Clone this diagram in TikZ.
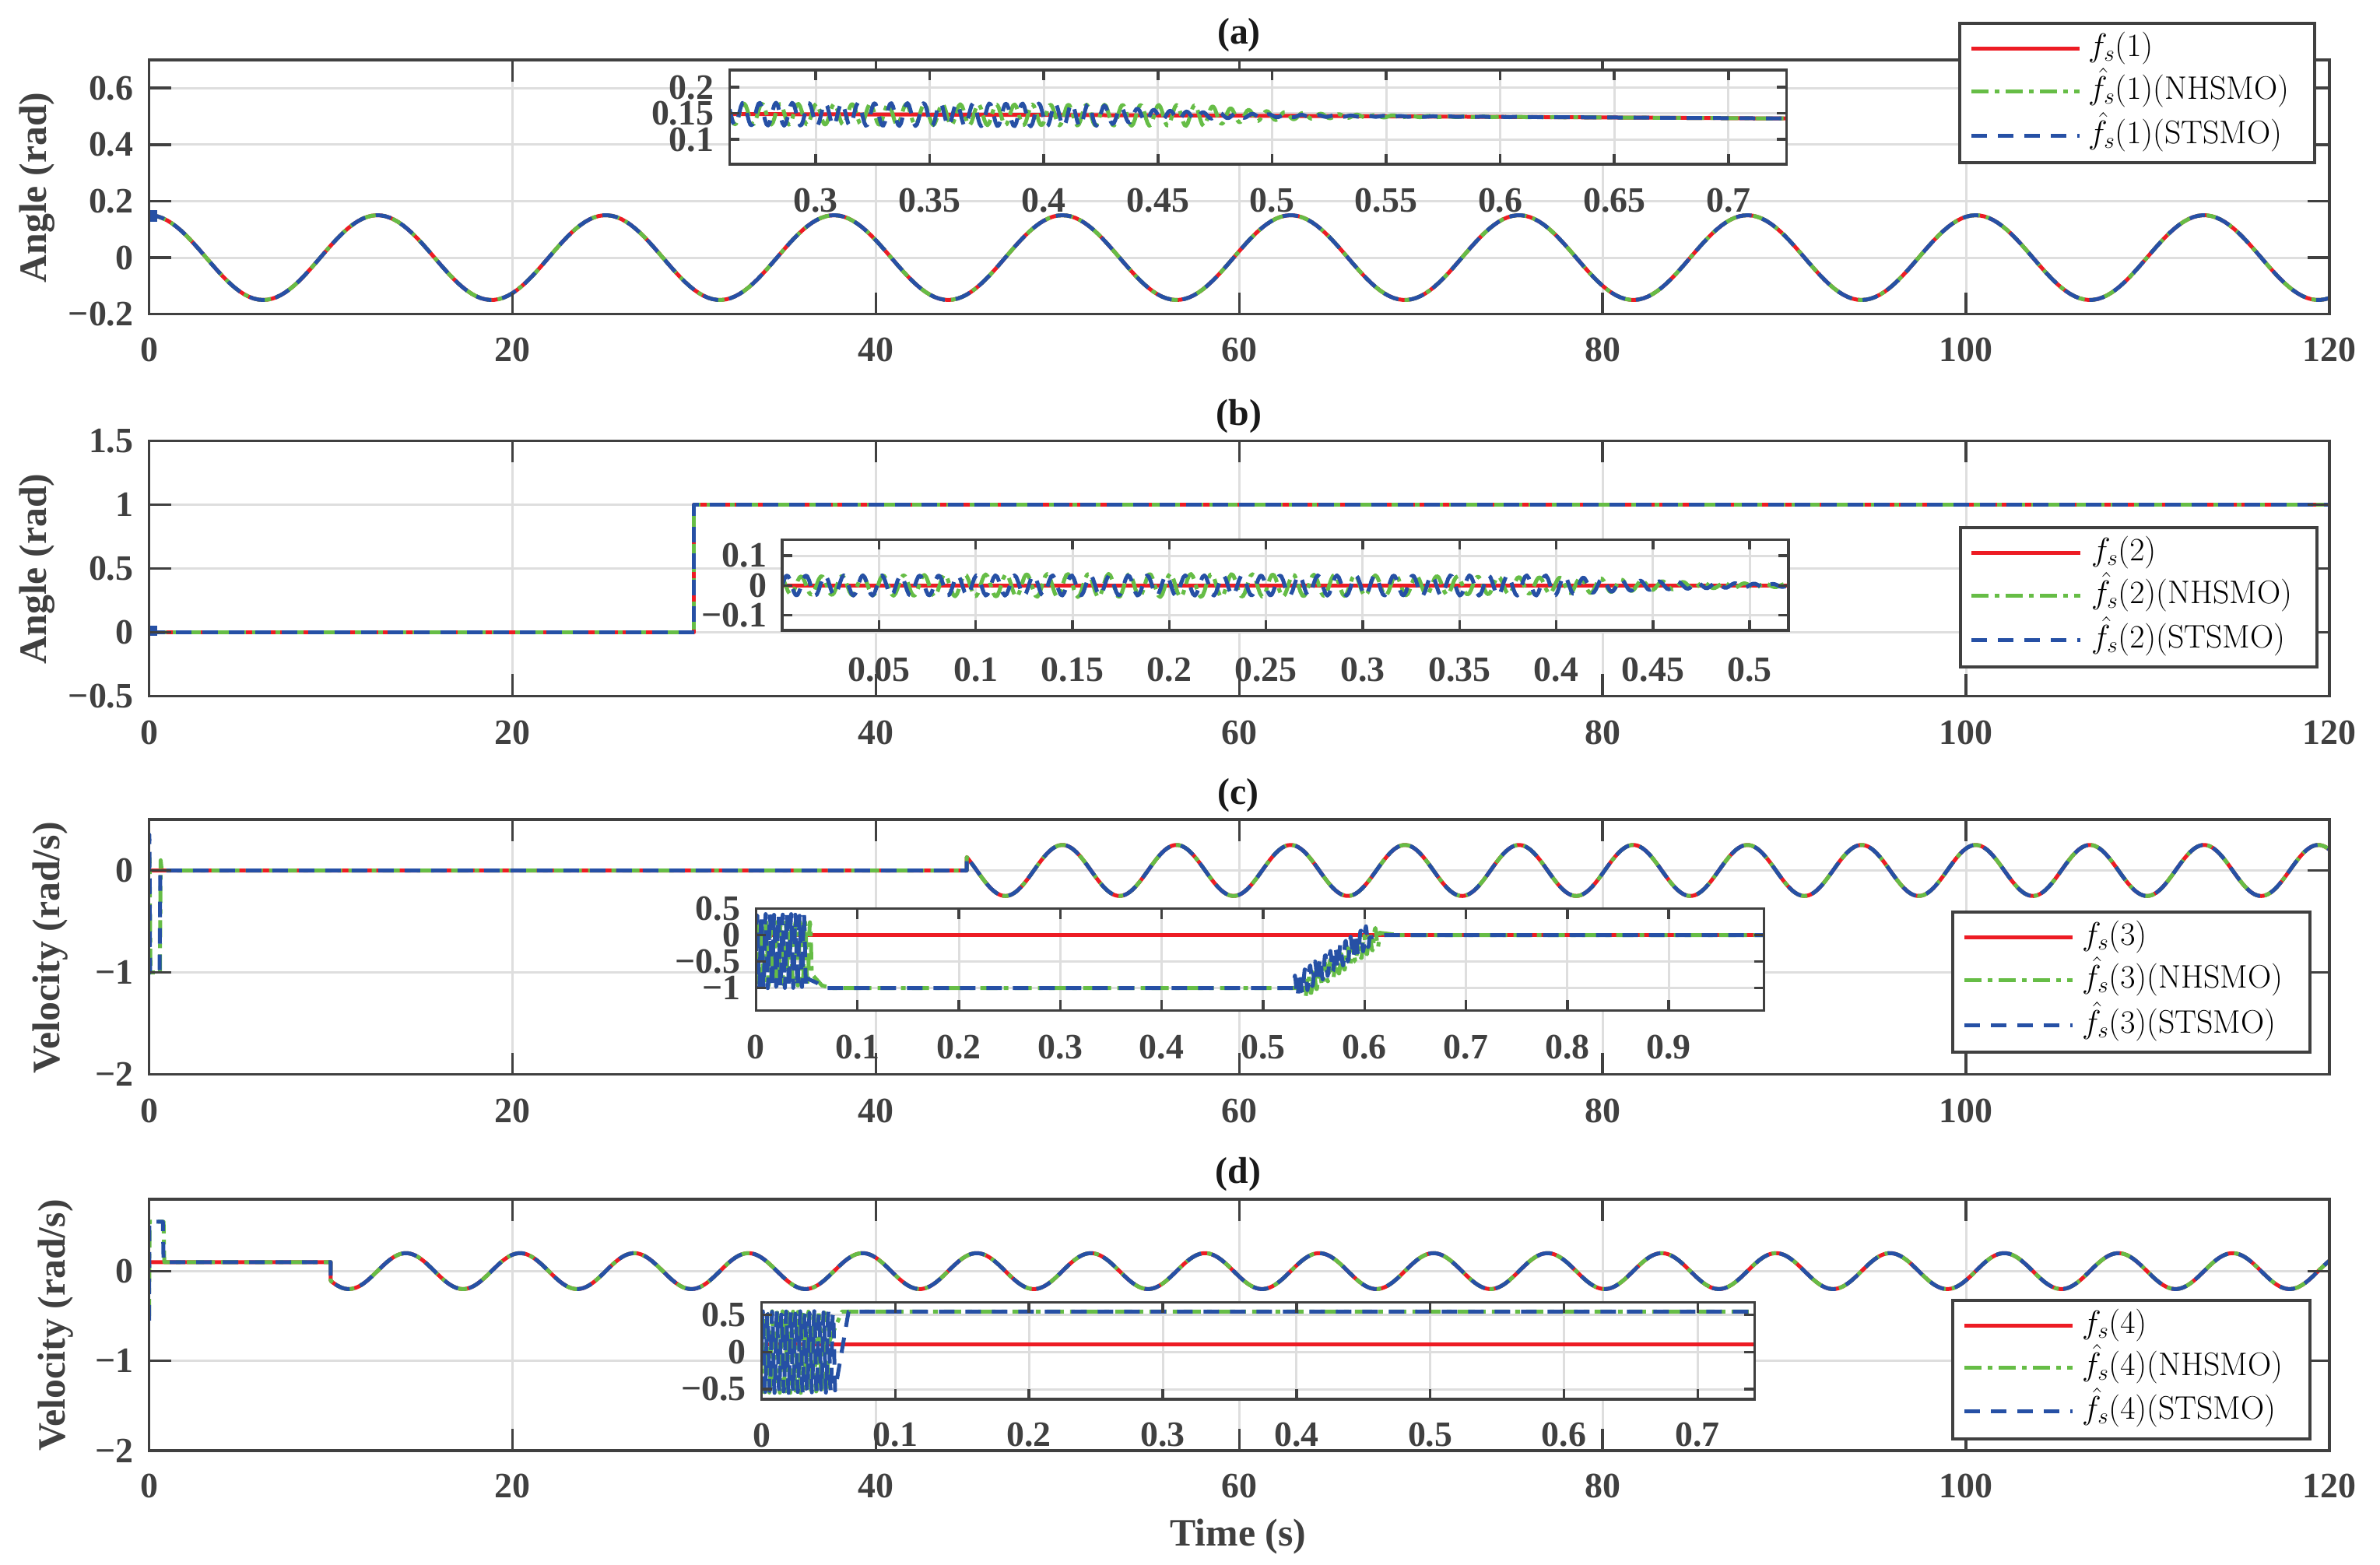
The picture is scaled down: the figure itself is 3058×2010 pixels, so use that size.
\RequirePackage{fix-cm}
\documentclass[tikz,border=0pt]{standalone}
\usepackage{fontspec}
\newfontfamily\tnr{Liberation Serif}
\definecolor{axc}{RGB}{64,64,64}
\definecolor{gridc}{RGB}{222,222,222}
\definecolor{cred}{RGB}{237,28,36}
\definecolor{cgreen}{RGB}{102,189,70}
\definecolor{cblue}{RGB}{38,80,165}
\tikzset{
 axbox/.style={draw=axc, line width=3.5bp},
 gridl/.style={draw=gridc, line width=3bp},
 tickl/.style={draw=axc, line width=3.5bp},
 tlab/.style={font=\tnr\bfseries\fontsize{46}{50}\selectfont, text=axc, inner sep=0pt},
 redc/.style={draw=cred, line width=5bp, line join=round},
 greenc/.style={draw=cgreen, line width=5bp, line join=round, dash pattern=on 22bp off 8bp on 6bp off 8bp},
 bluec/.style={draw=cblue, line width=5bp, line join=round, dash pattern=on 20bp off 14bp},
 legbox/.style={fill=white, draw=axc, line width=3.5bp},
 legtxt/.style={font=\fontsize{42}{46}\selectfont, inner sep=0pt, anchor=base west},
 ttl/.style={font=\tnr\bfseries\fontsize{48}{52}\selectfont, text=black!90, inner sep=0pt},
 ylab/.style={font=\tnr\bfseries\fontsize{50}{54}\selectfont, text=axc, inner sep=0pt, rotate=90},
}
\begin{document}
\begin{tikzpicture}[x=1bp,y=-1bp]
\useasboundingbox (0,0) rectangle (3058,2010);
\fill[white] (0,0) rectangle (3058,2010);

%%%%%%%%%%%%%%%% Panel (a)
\begin{scope}[shift={(191.5bp,-331bp)}, x=23.346bp, y=363bp]
 \foreach \yv in {0,0.2,0.4,0.6} \draw[gridl] (0,\yv) -- (120,\yv);
 \foreach \xv in {20,40,60,80,100} \draw[gridl] (\xv,-0.2) -- (\xv,0.7);
 \begin{scope}
  \clip (0,-0.2) rectangle (120,0.7);
  \draw[redc] plot[domain=0:120,samples=481] (\x,{0.15*cos(0.5*\x r)});
  \draw[greenc] plot[domain=0:120,samples=481] (\x,{0.15*cos(0.5*\x r)});
  \draw[bluec] plot[domain=0:120,samples=481] (\x,{0.15*cos(0.5*\x r)});
  \draw[cblue,line width=10bp] (0.25,0.127) -- (0.25,0.168);
 \end{scope}
 \foreach \yv in {-0.2,0,0.2,0.4,0.6} {\draw[tickl] (0,\yv) -- ++(28bp,0); \draw[tickl] (120,\yv) -- ++(-28bp,0);}
 \foreach \xv in {0,20,...,120} {\draw[tickl] (\xv,-0.2) -- ++(0,28bp); \draw[tickl] (\xv,0.7) -- ++(0,-28bp);}
 \draw[axbox] (0,-0.2) rectangle (120,0.7);
 \foreach \xv [count=\i] in {0,20,...,120} \node[tlab,yshift=-46bp] (axl\i) at (\xv,-0.2) {\xv};
 \foreach \yv/\lab [count=\i] in {-0.2/{−0.2},0/0,0.2/0.2,0.4/0.4,0.6/0.6} \node[tlab,anchor=east,xshift=-20bp] (ayl\i) at (0,\yv) {\lab};
\end{scope}
% inset (a)
\begin{scope}[shift={(168.4bp,-246.2bp)}, x=2932bp, y=670bp]
 \fill[white] (0.2623,0.0527) rectangle (0.7255,0.2333);
 \foreach \yv in {0.1,0.15,0.2} \draw[gridl] (0.2623,\yv) -- (0.7255,\yv);
 \foreach \xv in {0.3,0.35,0.4,0.45,0.5,0.55,0.6,0.65,0.7} \draw[gridl] (\xv,0.0527) -- (\xv,0.2333);
 \begin{scope}
  \clip (0.2623,0.0527) rectangle (0.7255,0.2333);
  \draw[redc] plot[domain=0.2623:0.7255,samples=40] (\x,{0.15*cos(0.5*\x r)});
  \draw[greenc] plot[domain=0.2623:0.7255,samples=650] (\x,{0.15*cos(0.5*\x r)+0.02*min(1,exp(-(\x-0.47)/0.035))*sin(360*frac(\x/0.0079)+90)});
  \draw[bluec] plot[domain=0.2623:0.7255,samples=650] (\x,{0.15*cos(0.5*\x r)+0.022*min(1,exp(-(\x-0.42)/0.04))*sin(360*frac(\x/0.0072))});
 \end{scope}
 \foreach \yv in {0.1,0.15,0.2} {\draw[tickl] (0.2623,\yv) -- ++(13bp,0); \draw[tickl] (0.7255,\yv) -- ++(-13bp,0);}
 \foreach \xv in {0.3,0.35,0.4,0.45,0.5,0.55,0.6,0.65,0.7} {\draw[tickl] (\xv,0.0527) -- ++(0,13bp); \draw[tickl] (\xv,0.2333) -- ++(0,-13bp);}
 \draw[axbox] (0.2623,0.0527) rectangle (0.7255,0.2333);
 \foreach \xv [count=\i] in {0.3,0.35,0.4,0.45,0.5,0.55,0.6,0.65,0.7} \node[tlab,yshift=-47bp] (iaxl\i) at (\xv,0.0527) {\xv};
 \foreach \yv [count=\i] in {0.1,0.15,0.2} \node[tlab,anchor=east,xshift=-20bp] (iayl\i) at (0.2623,\yv) {\yv};
\end{scope}
% legend (a)
\draw[legbox] (2518,30) rectangle (2974,209);
\draw[redc] (2533,62) -- (2672,62);
\draw[greenc] (2533,117) -- (2672,117);
\draw[bluec] (2533,174) -- (2672,174);
\node[legtxt] (la1) at (2683,72.5) {$f_s(1)$};
\node[legtxt] (la2) at (2683,127.5) {$\hat{f}_s(1)$(NHSMO)};
\node[legtxt] (la3) at (2683,184.5) {$\hat{f}_s(1)$(STSMO)};
\node[ttl] (ta) at (1592,45) {(a)};
\node[ylab] (yla) at (48,241) {Angle (rad)};

%%%%%%%%%%%%%%%% Panel (b)
\begin{scope}[shift={(191.5bp,-812.3bp)}, x=23.346bp, y=164bp]
 \foreach \yv in {0,0.5,1} \draw[gridl] (0,\yv) -- (120,\yv);
 \foreach \xv in {20,40,60,80,100} \draw[gridl] (\xv,-0.5) -- (\xv,1.5);
 \begin{scope}
  \clip (0,-0.5) rectangle (120,1.5);
  \draw[redc] (0,0) -- (30,0) -- (30,1) -- (120,1);
  \draw[greenc] (0,0) -- (30,0) -- (30,1) -- (120,1);
  \draw[bluec] (0,0) -- (30,0) -- (30,1) -- (120,1);
  \draw[cblue,line width=10bp] (0.25,-0.03) -- (0.25,0.05);
 \end{scope}
 \foreach \yv in {-0.5,0,0.5,1,1.5} {\draw[tickl] (0,\yv) -- ++(28bp,0); \draw[tickl] (120,\yv) -- ++(-28bp,0);}
 \foreach \xv in {0,20,...,120} {\draw[tickl] (\xv,-0.5) -- ++(0,28bp); \draw[tickl] (\xv,1.5) -- ++(0,-28bp);}
 \draw[axbox] (0,-0.5) rectangle (120,1.5);
 \foreach \xv [count=\i] in {0,20,...,120} \node[tlab,yshift=-47bp] (bxl\i) at (\xv,-0.5) {\xv};
 \foreach \yv/\lab [count=\i] in {-0.5/{−0.5},0/0,0.5/0.5,1/1,1.5/1.5} \node[tlab,anchor=east,xshift=-20bp] (byl\i) at (0,\yv) {\lab};
\end{scope}
% inset (b)
\begin{scope}[shift={(1005.1bp,-752.3bp)}, x=2486bp, y=383bp]
 \fill[white] (0,-0.151) rectangle (0.52,0.154);
 \foreach \yv in {-0.1,0,0.1} \draw[gridl] (0,\yv) -- (0.52,\yv);
 \foreach \xv in {0.05,0.1,0.15,0.2,0.25,0.3,0.35,0.4,0.45,0.5} \draw[gridl] (\xv,-0.151) -- (\xv,0.154);
 \begin{scope}
  \clip (0,-0.151) rectangle (0.52,0.154);
  \draw[redc] (0,0) -- (0.52,0);
  \draw[greenc] plot[domain=0:0.52,samples=520] (\x,{0.03*(1+0.3*sin(\x*500))*min(1,exp(-(\x-0.42)/0.07))*sin(360*frac(\x/0.0106)+120)});
  \draw[bluec] plot[domain=0:0.52,samples=520] (\x,{0.034*min(1,exp(-(\x-0.40)/0.06))*sin(360*frac(\x/0.0098))});
 \end{scope}
 \foreach \yv in {-0.1,0,0.1} {\draw[tickl] (0,\yv) -- ++(13bp,0); \draw[tickl] (0.52,\yv) -- ++(-13bp,0);}
 \foreach \xv in {0.05,0.1,0.15,0.2,0.25,0.3,0.35,0.4,0.45,0.5} {\draw[tickl] (\xv,-0.151) -- ++(0,13bp); \draw[tickl] (\xv,0.154) -- ++(0,-13bp);}
 \draw[axbox] (0,-0.151) rectangle (0.52,0.154);
 \foreach \xv [count=\i] in {0.05,0.1,0.15,0.2,0.25,0.3,0.35,0.4,0.45,0.5} \node[tlab,yshift=-50bp] (ibxl\i) at (\xv,-0.151) {\xv};
 \foreach \yv/\lab [count=\i] in {-0.1/{−0.1},0/0,0.1/0.1} \node[tlab,anchor=east,xshift=-20bp] (ibyl\i) at (0,\yv) {\lab};
\end{scope}
% legend (b)
\draw[legbox] (2519,678) rectangle (2977,857);
\draw[redc] (2533,710) -- (2673,710);
\draw[greenc] (2533,765) -- (2673,765);
\draw[bluec] (2533,822) -- (2673,822);
\node[legtxt] (lb1) at (2687,720.5) {$f_s(2)$};
\node[legtxt] (lb2) at (2687,775.5) {$\hat{f}_s(2)$(NHSMO)};
\node[legtxt] (lb3) at (2687,832.5) {$\hat{f}_s(2)$(STSMO)};
\node[ttl] (tb) at (1592,535) {(b)};
\node[ylab] (ylb) at (48,731) {Angle (rad)};

%%%%%%%%%%%%%%%% Panel (c)
\begin{scope}[shift={(191.5bp,-1118.5bp)}, x=23.346bp, y=131.1bp]
 \foreach \yv in {-1,0} \draw[gridl] (0,\yv) -- (120,\yv);
 \foreach \xv in {20,40,60,80,100} \draw[gridl] (\xv,-2) -- (\xv,0.5);
 \begin{scope}
  \clip (0,-2) rectangle (120,0.5);
  \draw[redc] (0,0) -- (45,0) -- plot[domain=45:120,samples=600] (\x,{0.25*cos(\x r)});
  \draw[greenc] (0,0) -- (0.03,0.12) -- (0.08,-1) -- (0.6,-1) -- (0.64,0.1) -- (0.7,0) -- (45,0) -- plot[domain=45:120,samples=600] (\x,{0.25*cos(\x r)});
  \draw[bluec] (0,0) -- (0.02,0.35) -- (0.06,-1) -- (0.58,-1) -- (0.62,0) -- (45,0) -- plot[domain=45:120,samples=600] (\x,{0.25*cos(\x r)});
 \end{scope}
 \foreach \yv in {-2,-1,0} {\draw[tickl] (0,\yv) -- ++(28bp,0); \draw[tickl] (120,\yv) -- ++(-28bp,0);}
 \foreach \xv in {0,20,...,120} {\draw[tickl] (\xv,-2) -- ++(0,28bp); \draw[tickl] (\xv,0.5) -- ++(0,-28bp);}
 \draw[axbox] (0,-2) rectangle (120,0.5);
 \foreach \xv [count=\i] in {0,20,...,100} \node[tlab,yshift=-47bp] (cxl\i) at (\xv,-2) {\xv};
 \foreach \yv/\lab [count=\i] in {-2/{−2},-1/{−1},0/0} \node[tlab,anchor=east,xshift=-20bp] (cyl\i) at (0,\yv) {\lab};
\end{scope}
% inset (c)
\begin{scope}[shift={(971.4bp,-1201.7bp)}, x=1303bp, y=68bp]
 \fill[white] (0,-1.42) rectangle (0.994,0.5);
 \foreach \yv in {-1,-0.5,0} \draw[gridl] (0,\yv) -- (0.994,\yv);
 \foreach \xv in {0.1,0.2,0.3,0.4,0.5,0.6,0.7,0.8,0.9} \draw[gridl] (\xv,-1.42) -- (\xv,0.5);
 \begin{scope}
  \clip (0,-1.42) rectangle (0.994,0.5);
  \draw[redc] (0,0) -- (0.994,0);
  \draw[greenc] plot[domain=0:0.055,samples=120] (\x,{-0.35+0.6*sin(360*frac(\x/0.0048)+60)}) -- (0.065,-0.95) -- (0.075,-1) -- (0.54,-1) -- plot[domain=0.54:0.615,samples=110] (\x,{-1+(\x-0.54)/0.075+0.2*sin(360*frac(\x/0.0055)+90)}) -- (0.635,0) -- (0.994,0);
  \draw[bluec] plot[domain=0:0.05,samples=120] (\x,{-0.3+0.7*sin(360*frac(\x/0.0042))}) -- (0.06,-0.9) -- (0.068,-1) -- (0.53,-1) -- plot[domain=0.53:0.605,samples=110] (\x,{-1+(\x-0.53)/0.075+0.22*sin(360*frac(\x/0.005))}) -- (0.62,0) -- (0.994,0);
 \end{scope}
 \foreach \yv in {-1,-0.5,0,0.5} {\draw[tickl] (0,\yv) -- ++(13bp,0); \draw[tickl] (0.994,\yv) -- ++(-13bp,0);}
 \foreach \xv in {0,0.1,0.2,0.3,0.4,0.5,0.6,0.7,0.8,0.9} {\draw[tickl] (\xv,-1.42) -- ++(0,13bp); \draw[tickl] (\xv,0.5) -- ++(0,-13bp);}
 \draw[axbox] (0,-1.42) rectangle (0.994,0.5);
 \foreach \xv [count=\i] in {0,0.1,0.2,0.3,0.4,0.5,0.6,0.7,0.8,0.9} \node[tlab,yshift=-47bp] (icxl\i) at (\xv,-1.42) {\xv};
 \foreach \yv/\lab [count=\i] in {-1/{−1},-0.5/{−0.5},0/0,0.5/0.5} \node[tlab,anchor=east,xshift=-20bp] (icyl\i) at (0,\yv) {\lab};
\end{scope}
% legend (c)
\draw[legbox] (2509,1172) rectangle (2968,1352);
\draw[redc] (2524,1204) -- (2663,1204);
\draw[greenc] (2524,1259) -- (2663,1259);
\draw[bluec] (2524,1317) -- (2663,1317);
\node[legtxt] (lc1) at (2675,1214.5) {$f_s(3)$};
\node[legtxt] (lc2) at (2675,1269.5) {$\hat{f}_s(3)$(NHSMO)};
\node[legtxt] (lc3) at (2675,1327.5) {$\hat{f}_s(3)$(STSMO)};
\node[ttl] (tc) at (1591,1022) {(c)};
\node[ylab] (ylc) at (65,1218) {Velocity (rad/s)};

%%%%%%%%%%%%%%%% Panel (d)
\begin{scope}[shift={(191.5bp,-1633.3bp)}, x=23.346bp, y=115.3bp]
 \foreach \yv in {-1,0} \draw[gridl] (0,\yv) -- (120,\yv);
 \foreach \xv in {20,40,60,80,100} \draw[gridl] (\xv,-2) -- (\xv,0.8);
 \begin{scope}
  \clip (0,-2) rectangle (120,0.8);
  \draw[redc] (0,0.1) -- (10,0.1) -- plot[domain=10:120,samples=880] (\x,{0.2*sin(\x r)});
  \draw[greenc] (0,-0.5) -- (0.03,0.55) -- (0.8,0.55) -- (0.84,0.1) -- (10,0.1) -- plot[domain=10:120,samples=880] (\x,{0.2*sin(\x r)});
  \draw[bluec] (0,-0.55) -- (0.02,0.55) -- (0.76,0.55) -- (0.8,0.1) -- (10,0.1) -- plot[domain=10:120,samples=880] (\x,{0.2*sin(\x r)});
 \end{scope}
 \foreach \yv in {-2,-1,0} {\draw[tickl] (0,\yv) -- ++(28bp,0); \draw[tickl] (120,\yv) -- ++(-28bp,0);}
 \foreach \xv in {0,20,...,120} {\draw[tickl] (\xv,-2) -- ++(0,28bp); \draw[tickl] (\xv,0.8) -- ++(0,-28bp);}
 \draw[axbox] (0,-2) rectangle (120,0.8);
 \foreach \xv [count=\i] in {0,20,...,120} \node[tlab,yshift=-46bp] (dxl\i) at (\xv,-2) {\xv};
 \foreach \yv/\lab [count=\i] in {-2/{−2},-1/{−1},0/0} \node[tlab,anchor=east,xshift=-20bp] (dyl\i) at (0,\yv) {\lab};
\end{scope}
% inset (d)
\begin{scope}[shift={(978.6bp,-1737.3bp)}, x=1718bp, y=95.4bp]
 \fill[white] (0,-0.636) rectangle (0.7426,0.668);
 \foreach \yv in {-0.5,0,0.5} \draw[gridl] (0,\yv) -- (0.7426,\yv);
 \foreach \xv in {0.1,0.2,0.3,0.4,0.5,0.6,0.7} \draw[gridl] (\xv,-0.636) -- (\xv,0.668);
 \begin{scope}
  \clip (0,-0.636) rectangle (0.7426,0.668);
  \draw[redc] (0,0.1) -- (0.7426,0.1);
  \draw[greenc] plot[domain=0:0.05,samples=120] (\x,{0.55*sin(360*frac(\x/0.0039)+90)}) -- (0.06,0.545) -- (0.7426,0.545);
  \draw[bluec] plot[domain=0:0.055,samples=120] (\x,{0.55*sin(360*frac(\x/0.0035))}) -- (0.065,0.545) -- (0.7426,0.545);
 \end{scope}
 \foreach \yv in {-0.5,0,0.5} {\draw[tickl] (0,\yv) -- ++(13bp,0); \draw[tickl] (0.7426,\yv) -- ++(-13bp,0);}
 \foreach \xv in {0,0.1,0.2,0.3,0.4,0.5,0.6,0.7} {\draw[tickl] (\xv,-0.636) -- ++(0,13bp); \draw[tickl] (\xv,0.668) -- ++(0,-13bp);}
 \draw[axbox] (0,-0.636) rectangle (0.7426,0.668);
 \foreach \xv [count=\i] in {0,0.1,0.2,0.3,0.4,0.5,0.6,0.7} \node[tlab,yshift=-46bp] (idxl\i) at (\xv,-0.636) {\xv};
 \foreach \yv/\lab [count=\i] in {-0.5/{−0.5},0/0,0.5/0.5} \node[tlab,anchor=east,xshift=-20bp] (idyl\i) at (0,\yv) {\lab};
\end{scope}
% legend (d)
\draw[legbox] (2509,1671) rectangle (2968,1849);
\draw[redc] (2524,1703) -- (2663,1703);
\draw[greenc] (2524,1757) -- (2663,1757);
\draw[bluec] (2524,1813) -- (2663,1813);
\node[legtxt] (ld1) at (2675,1713.5) {$f_s(4)$};
\node[legtxt] (ld2) at (2675,1767.5) {$\hat{f}_s(4)$(NHSMO)};
\node[legtxt] (ld3) at (2675,1823.5) {$\hat{f}_s(4)$(STSMO)};
\node[ttl] (td) at (1591,1509) {(d)};
\node[ylab] (yld) at (72,1703) {Velocity (rad/s)};
\node[font=\tnr\bfseries\fontsize{50}{54}\selectfont, text=axc, inner sep=0pt] (xlab) at (1591,1974) {Time (s)};
\end{tikzpicture}
\end{document}
